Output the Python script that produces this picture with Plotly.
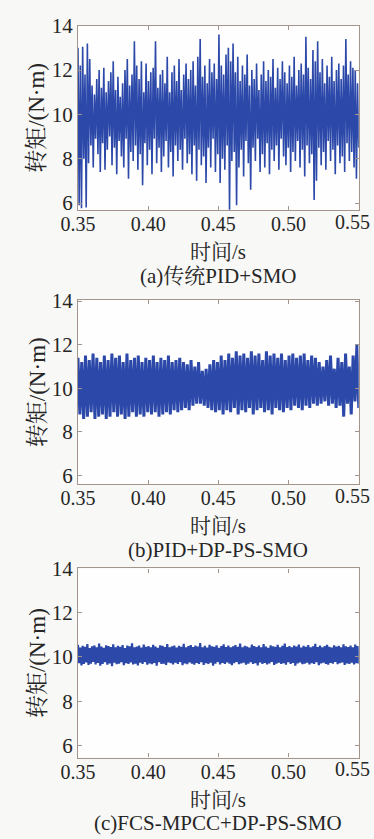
import numpy as np
import plotly.graph_objects as go

# ---------------- data ----------------
x_ticks = [0.35, 0.40, 0.45, 0.50, 0.55]
x_tick_text = ["0.35", "0.40", "0.45", "0.50", "0.55"]
y_ticks = [6, 8, 10, 12, 14]
y_tick_text = ["6", "8", "10", "12", "14"]

captions = ["(a)传统PID+SMO", "(b)PID+DP-PS-SMO", "(c)FCS-MPCC+DP-PS-SMO"]
x_title = "时间/s"
y_title = "转矩/(N·m)"

# (a) traditional PID + SMO : alternating peak / valley values
tops_a = [13.0, 12.2, 13.05, 11.8, 13.2, 12.5, 11.3, 10.9, 11.6, 12.0,
          11.2, 12.1, 11.0, 11.5, 11.9, 12.4, 11.1, 11.7, 10.8, 11.4,
          12.0, 12.5, 11.3, 11.8, 13.3, 12.2, 11.6, 12.4, 11.0, 12.3,
          11.5, 11.9, 12.1, 13.3, 11.2, 11.8, 12.0, 11.4, 12.6, 11.0,
          11.9, 12.2, 11.5, 12.5, 11.1, 11.8, 12.3, 11.6, 12.0, 12.4,
          11.3, 12.6, 13.4, 11.7, 12.2, 11.4, 12.5, 11.9, 12.3, 11.6,
          13.6, 12.2, 11.8, 12.7, 13.0, 12.4, 13.2, 11.9, 12.6, 11.5,
          12.2, 11.8, 12.7, 11.3, 12.0, 11.6, 12.3, 11.1, 11.8, 12.4,
          11.5, 12.0, 11.7, 12.5, 11.2, 12.1, 11.6, 12.4, 11.9, 11.4,
          12.2, 11.7, 12.6, 11.3, 12.0, 12.3, 11.8, 13.5, 12.1, 11.6,
          12.9, 12.4, 13.3, 11.9, 12.5, 11.4, 12.2, 11.7, 12.6, 11.5,
          12.0, 12.3, 11.6, 12.2, 13.4, 11.8, 12.4, 12.1, 12.0, 11.4]
bottoms_a = [5.9, 5.77, 8.0, 5.8, 7.8, 8.6, 7.6, 8.9, 8.2, 7.4,
             8.7, 7.5, 8.4, 9.0, 7.7, 8.5, 7.3, 8.8, 8.1, 7.6,
             8.9, 7.1, 8.3, 7.9, 8.6, 7.5, 8.2, 6.8, 8.7, 7.7,
             8.4, 7.3, 8.9, 7.8, 8.5, 7.4, 8.1, 8.8, 7.6, 8.3,
             7.2, 8.6, 7.9, 8.4, 7.5, 8.9, 7.8, 8.2, 7.3, 8.6,
             7.0, 8.4, 7.7, 8.1, 6.9, 8.5, 7.6, 8.9, 7.4, 8.2,
             6.9, 8.0, 7.5, 8.6, 5.7, 7.9, 8.3, 5.9, 7.6, 8.4,
             7.2, 8.8, 7.8, 6.6, 8.5, 7.9, 8.9, 7.4, 8.2, 7.6,
             8.7, 7.3, 8.4, 7.9, 8.6, 7.5, 8.9, 8.1, 7.7, 8.5,
             7.4, 8.3, 7.9, 8.8, 7.6, 8.4, 7.2, 8.6, 7.8, 8.2,
             6.14, 7.0, 8.5, 7.7, 8.3, 7.5, 8.8, 7.9, 8.4, 7.3,
             8.6, 7.8, 8.1, 7.4, 8.7, 7.9, 8.3, 7.6, 7.1, 8.5]

# (b) PID + DP-PS-SMO
tops_b = [11.4, 11.2, 11.5, 11.3, 11.6, 11.4, 11.2, 11.5, 11.3, 11.6,
          11.4, 11.5, 11.2, 11.6, 11.3, 11.4, 11.5, 11.2, 11.4, 11.3,
          11.5, 11.2, 11.4, 11.3, 11.5, 11.2, 11.3, 11.4, 11.2, 11.1,
          11.3, 11.0, 11.2, 10.8, 10.9, 11.1, 11.3, 11.2, 11.5, 11.3,
          11.6, 11.4, 11.7, 11.5, 11.6, 11.4, 11.7, 11.5, 11.6, 11.3,
          11.7, 11.5, 11.6, 11.4, 11.6, 11.3, 11.5, 11.6, 11.4, 11.5,
          11.6, 11.3, 11.5, 11.4, 11.2, 11.0, 11.3, 11.5, 10.9, 11.4,
          11.2, 11.6, 11.0, 11.5, 12.0]
bottoms_b = [8.8, 8.6, 8.7, 8.9, 8.6, 8.7, 8.8, 8.6, 8.7, 8.9,
             8.7, 8.8, 8.6, 8.7, 8.9, 8.7, 8.8, 8.7, 8.9, 8.8,
             8.9, 8.7, 8.8, 8.9, 8.8, 9.0, 8.9, 9.0, 9.1, 9.0,
             9.2, 9.3, 9.3, 9.2, 9.1, 9.0, 8.9, 9.0, 8.8, 9.0,
             8.9, 9.1, 8.8, 9.0, 8.9, 9.1, 8.8, 9.0, 9.1, 8.9,
             9.0, 8.8, 9.1, 9.0, 8.9, 9.1, 9.0, 9.2, 9.1, 9.0,
             9.2, 9.1, 9.3, 9.2, 9.3, 9.4, 9.2, 9.3, 9.1, 9.2,
             8.7, 9.3, 8.8, 9.4, 9.1]

# (c) FCS-MPCC + DP-PS-SMO
tops_c = [10.55, 10.42, 10.50, 10.46, 10.58, 10.40, 10.48, 10.52, 10.44, 10.60,
          10.47, 10.41, 10.53, 10.49, 10.45, 10.57, 10.43, 10.50, 10.46, 10.54,
          10.40, 10.52, 10.48, 10.62, 10.44, 10.47, 10.51, 10.42, 10.56, 10.46,
          10.49, 10.43, 10.55, 10.47, 10.41, 10.53, 10.50, 10.45, 10.58, 10.44,
          10.48, 10.52, 10.42, 10.50, 10.46, 10.59, 10.43, 10.49, 10.54, 10.45,
          10.51, 10.47, 10.63, 10.44, 10.50, 10.42, 10.55, 10.48, 10.46, 10.53,
          10.41, 10.49, 10.57, 10.45, 10.51, 10.43, 10.48, 10.54, 10.46, 10.60,
          10.44, 10.50, 10.47, 10.42, 10.56, 10.49, 10.45, 10.52, 10.43, 10.58,
          10.47, 10.41, 10.53, 10.48, 10.46, 10.55, 10.44, 10.50, 10.61, 10.45,
          10.49, 10.43, 10.52, 10.47, 10.56, 10.42, 10.50, 10.46, 10.54, 10.44,
          10.48, 10.59, 10.45, 10.51, 10.43, 10.49, 10.55, 10.46, 10.42, 10.53,
          10.47, 10.50, 10.44, 10.57, 10.48, 10.45, 10.52, 10.43, 10.56, 10.49]
bottoms_c = [9.72, 9.62, 9.68, 9.75, 9.64, 9.70, 9.78, 9.66, 9.73, 9.60,
             9.69, 9.76, 9.65, 9.71, 9.58, 9.74, 9.67, 9.70, 9.77, 9.63,
             9.72, 9.68, 9.75, 9.66, 9.70, 9.62, 9.74, 9.69, 9.77, 9.65,
             9.71, 9.67, 9.73, 9.60, 9.76, 9.68, 9.70, 9.64, 9.75, 9.72,
             9.66, 9.74, 9.69, 9.77, 9.63, 9.71, 9.67, 9.75, 9.70, 9.65,
             9.73, 9.68, 9.76, 9.64, 9.72, 9.69, 9.74, 9.61, 9.70, 9.77,
             9.66, 9.73, 9.68, 9.75, 9.70, 9.63, 9.72, 9.78, 9.67, 9.71,
             9.74, 9.65, 9.70, 9.76, 9.68, 9.72, 9.62, 9.75, 9.69, 9.73,
             9.66, 9.71, 9.77, 9.64, 9.70, 9.74, 9.68, 9.72, 9.65, 9.76,
             9.69, 9.73, 9.60, 9.71, 9.75, 9.67, 9.70, 9.74, 9.66, 9.72,
             9.68, 9.76, 9.63, 9.71, 9.74, 9.69, 9.65, 9.73, 9.70, 9.77,
             9.67, 9.72, 9.75, 9.64, 9.71, 9.69, 9.74, 9.66, 9.72, 9.70]

t_start, t_end = 0.35, 0.55


def zigzag(tops, bottoms):
    y = np.empty(2 * len(tops))
    y[0::2] = tops
    y[1::2] = bottoms
    t = np.linspace(t_start, t_end, len(y))
    return t, y


# ---------------- style ----------------
W, H = 374, 839
LINE = "#2c49aa"
FRAME = "#a3958c"
TXT = "#262626"
SERIF = "Liberation Serif, Noto Serif CJK SC, Noto Sans CJK SC, serif"

# pixel boxes of the three plot areas (left, top, right, bottom)
boxes = [(63, 14, 358, 202), (63, 294, 358, 482), (63, 568, 358, 761)]
y_ranges = [[5.69, 14.0], [5.6, 14.05], [5.45, 14.0]]
widths = [1.6, 3.0, 2.2]
series = [(tops_a, bottoms_a), (tops_b, bottoms_b), (tops_c, bottoms_c)]

fig = go.Figure()
annotations = []
layout = dict(
    width=W, height=H, margin=dict(l=0, r=0, t=0, b=0),
    paper_bgcolor="#f8f8f6", plot_bgcolor="#fefefe", showlegend=False,
)

for i, ((tp, bt), box, yr, lw) in enumerate(zip(series, boxes, y_ranges, widths)):
    k = "" if i == 0 else str(i + 1)
    t, y = zigzag(tp, bt)
    fig.add_trace(go.Scatter(x=t, y=y, mode="lines", xaxis="x" + k, yaxis="y" + k,
                             line=dict(color=LINE, width=lw), hoverinfo="skip"))
    l, tpx, r, b = box
    axis_common = dict(showline=True, linecolor=FRAME, linewidth=1.2, mirror="ticks",
                       ticks="inside", ticklen=4, tickcolor=FRAME, showgrid=False,
                       zeroline=False, tickfont=dict(family=SERIF, size=21, color=TXT))
    # the last x label sits on the figure edge: the axis draws the first four,
    # the last one is placed as text right-aligned to the page edge
    layout["xaxis" + k] = dict(axis_common, domain=[l / W, r / W], anchor="y" + k,
                               range=[t_start, t_end], tickvals=x_ticks[:-1],
                               ticktext=x_tick_text[:-1], ticklabelstandoff=-4,
                               tickfont=dict(family=SERIF, size=20, color=TXT))
    layout["yaxis" + k] = dict(axis_common, domain=[1 - b / H, 1 - tpx / H], anchor="x" + k,
                               range=yr, tickvals=y_ticks, ticktext=y_tick_text)
    annotations.append(dict(text=x_tick_text[-1], x=372 / W, y=1 - (b + 12) / H,
                            xref="paper", yref="paper", showarrow=False,
                            xanchor="right", yanchor="middle",
                            font=dict(family=SERIF, size=20, color=TXT)))
    # axis titles and caption
    annotations.append(dict(text=x_title, x=(l + r) / 2 / W, y=1 - (b + 43) / H,
                            xref="paper", yref="paper", showarrow=False,
                            xanchor="center", yanchor="middle",
                            font=dict(family=SERIF, size=21, color=TXT)))
    annotations.append(dict(text=captions[i], x=(l + r) / 2 / W, y=1 - (b + 67) / H,
                            xref="paper", yref="paper", showarrow=False,
                            xanchor="center", yanchor="middle",
                            font=dict(family=SERIF, size=21, color=TXT)))
    annotations.append(dict(text=y_title, x=20 / W, y=1 - ((tpx + b) / 2) / H,
                            xref="paper", yref="paper", showarrow=False, textangle=-90,
                            xanchor="center", yanchor="middle",
                            font=dict(family=SERIF, size=23, color=TXT)))

layout["annotations"] = annotations
fig.update_layout(**layout)
fig.write_html("out.html")
